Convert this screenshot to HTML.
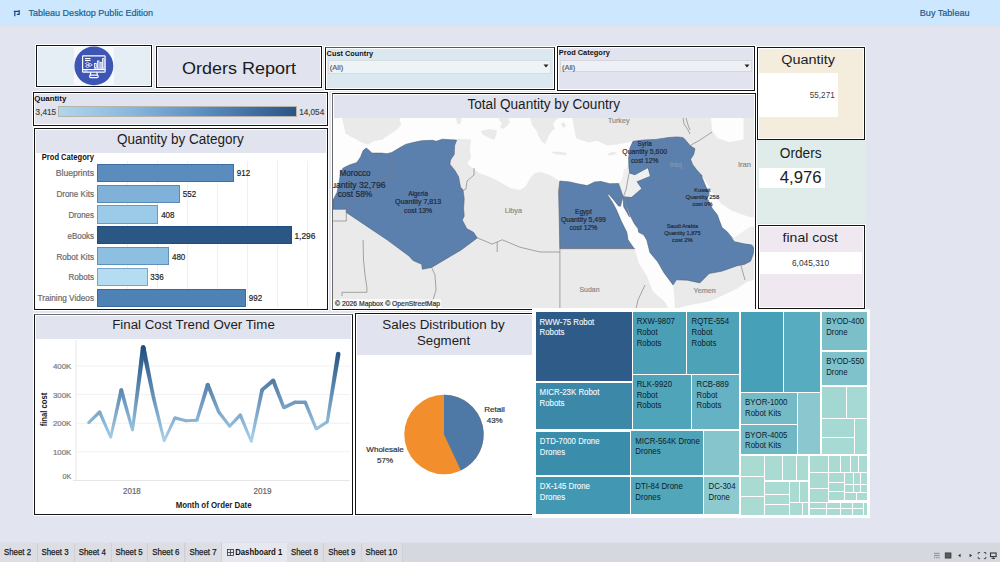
<!DOCTYPE html>
<html><head><meta charset="utf-8"><title>Orders Report</title><style>
*{margin:0;padding:0;box-sizing:border-box}
html,body{width:1000px;height:562px;overflow:hidden;background:#e2e5ef;font-family:"Liberation Sans", Arial, sans-serif;position:relative}
.abs{position:absolute}
.bx{position:absolute;border:1px solid #151515;box-shadow:0 0 0 1px #fff, inset 0 0 0 1px #fff}
.tile{position:absolute}
</style></head>
<body>
<div class="abs" style="left:0px;top:0px;width:1000px;height:25px;background:#cde8fe;"></div><div class="abs" style="left:0px;top:25px;width:1000px;height:1px;background:#c4e8fc;"></div><div class="abs" style="left:0px;top:26px;width:1000px;height:1px;background:#e6e3e8;"></div><svg class="abs" style="left:0;top:0" width="30" height="26" viewBox="0 0 30 26"><path d="M13.8,11.3 H19.8 M14.8,11.3 V16.2 M19.2,10 V15 M16.8,14.3 H19.2" fill="none" stroke="#1a4a82" stroke-width="1.25"/></svg><div class="bx" style="left:36px;top:45px;width:116px;height:42px;background:#e5edf5;"></div><div class="abs" style="left:74px;top:46px;width:40px;height:40px;background:#f6f8fb;"></div><svg class="abs" style="left:74px;top:46px" width="40" height="40" viewBox="0 0 40 40">
<circle cx="19.85" cy="19.9" r="19.45" fill="#3d56b6"/>
<g fill="none" stroke="#fff" stroke-width="1.2">
<rect x="8.6" y="9.8" width="22.5" height="16.4" rx="0.8"/>
<line x1="8.6" y1="23.6" x2="31.1" y2="23.6"/>
<path d="M16.8,26.4 L16.2,29.2 M22.8,26.4 L23.4,29.2"/>
<rect x="15.6" y="29.2" width="8.6" height="2.4" rx="1.2"/>
<rect x="20.6" y="17.5" width="1.6" height="4.8" stroke-width="0.9"/>
<rect x="23.4" y="15" width="1.6" height="7.3" stroke-width="0.9"/>
<rect x="26.2" y="16.6" width="1.6" height="5.7" stroke-width="0.9"/>
<rect x="28.6" y="12.6" width="1.4" height="9.7" stroke-width="0.9"/>
<path d="M11.5,17.5 l2,-1.3 l2,1.3 l-2,1.3z M11.5,20.3 l2,-1.3 l2,1.3 l-2,1.3z M14.3,18.9 l2,-1.3 l2,1.3 l-2,1.3z" stroke-width="0.7"/>
</g>
<rect x="11" y="12" width="5.5" height="1.2" fill="#fff"/><rect x="11" y="14" width="5.5" height="1" fill="#fff"/>
<rect x="10.5" y="24.6" width="3" height="0.8" fill="#fff"/>
</svg><div class="bx" style="left:156px;top:46px;width:166px;height:42px;background:#e1e4ef;"></div><div class="bx" style="left:325px;top:47px;width:230px;height:43px;background:#dce8ef;border-top-color:#5a5a5a;"></div><div class="abs" style="left:328px;top:60px;width:223px;height:13.5px;background:#eef4f6;border:1px solid #d3dde2;"></div><svg class="abs" style="left:543px;top:64px" width="6" height="4"><path d="M0.5,0.5 L5.5,0.5 L3,3.5Z" fill="#222"/></svg><div class="bx" style="left:557px;top:46px;width:198px;height:45px;background:#e1e4ef;"></div><div class="abs" style="left:559.5px;top:60.3px;width:192px;height:12px;background:#eff0f5;border:1px solid #d5d7de;"></div><svg class="abs" style="left:743.5px;top:64px" width="6" height="4"><path d="M0.5,0.5 L5.5,0.5 L3,3.5Z" fill="#222"/></svg><div class="bx" style="left:757px;top:47px;width:108px;height:93px;background:#f4ecdc;"></div><div class="abs" style="left:759px;top:73px;width:79px;height:44px;background:#ffffff;"></div><div class="abs" style="left:757px;top:140px;width:109px;height:83px;background:#dfece9;"></div><div class="abs" style="left:759px;top:167.5px;width:65.5px;height:20px;background:#ffffff;"></div><div class="bx" style="left:758px;top:225px;width:107px;height:84px;background:#efe8f1;"></div><div class="abs" style="left:760px;top:252px;width:102px;height:21.5px;background:#ffffff;"></div><div class="bx" style="left:33px;top:92px;width:295px;height:34px;background:#e1e4ef;"></div><div class="abs" style="left:58px;top:106.3px;width:239px;height:10.7px;background:linear-gradient(90deg,#b0d6ee,#88b8de 30%,#5a8cc0 62%,#2a5589);border:1px solid #b9b3a8;"></div><div class="bx" style="left:34px;top:128px;width:294px;height:182px;background:#ffffff;"></div><div class="abs" style="left:36px;top:130px;width:290px;height:23px;background:#e1e4ef;"></div><div class="abs" style="left:127px;top:161px;width:1px;height:146px;background:#f0f0f0;"></div><div class="abs" style="left:157px;top:161px;width:1px;height:146px;background:#f0f0f0;"></div><div class="abs" style="left:187px;top:161px;width:1px;height:146px;background:#f0f0f0;"></div><div class="abs" style="left:217px;top:161px;width:1px;height:146px;background:#f0f0f0;"></div><div class="abs" style="left:247px;top:161px;width:1px;height:146px;background:#f0f0f0;"></div><div class="abs" style="left:277px;top:161px;width:1px;height:146px;background:#f0f0f0;"></div><div class="abs" style="left:307px;top:161px;width:1px;height:146px;background:#f0f0f0;"></div><div class="abs" style="left:97.2px;top:163.7px;width:136.9px;height:18.3px;background:#5a8dbd;box-shadow:inset 0 0 0 1px rgba(15,60,120,0.35)"></div><div class="abs" style="left:97.2px;top:184.5px;width:82.8px;height:18.3px;background:#7fb1d9;box-shadow:inset 0 0 0 1px rgba(15,60,120,0.35)"></div><div class="abs" style="left:97.2px;top:205.3px;width:61.2px;height:18.3px;background:#9bcbe8;box-shadow:inset 0 0 0 1px rgba(15,60,120,0.35)"></div><div class="abs" style="left:97.2px;top:226.1px;width:194.5px;height:18.3px;background:#2a5783;box-shadow:inset 0 0 0 1px rgba(15,60,120,0.35)"></div><div class="abs" style="left:97.2px;top:246.9px;width:72.0px;height:18.3px;background:#8dbfe1;box-shadow:inset 0 0 0 1px rgba(15,60,120,0.35)"></div><div class="abs" style="left:97.2px;top:267.7px;width:50.4px;height:18.3px;background:#b5ddf2;box-shadow:inset 0 0 0 1px rgba(15,60,120,0.35)"></div><div class="abs" style="left:97.2px;top:288.5px;width:148.9px;height:18.3px;background:#4f82b4;box-shadow:inset 0 0 0 1px rgba(15,60,120,0.35)"></div><div class="bx" style="left:332px;top:93px;width:424px;height:217px;background:#ffffff;border-left-color:#6a6a6a;"></div><div class="abs" style="left:334px;top:95px;width:420px;height:22.5px;background:#e1e4ef;"></div><svg class="abs" style="left:0;top:0" width="1000" height="562" viewBox="0 0 1000 562"><defs><clipPath id="mc"><rect x="333" y="118" width="421" height="190"/></clipPath></defs><g clip-path="url(#mc)"><rect x="333" y="118" width="421" height="190" fill="#eaeaea"/><polygon points="333.0,118.0 342.0,118.0 343.8,124.5 345.7,133.8 353.2,137.5 361.9,142.5 368.1,144.4 373.1,141.3 381.8,139.4 390.5,133.8 396.8,129.5 401.1,124.5 399.2,119.5 400.0,118.0 572.3,118.0 576.0,138.2 588.5,142.5 597.2,140.7 607.2,145.6 617.1,144.4 625.0,143.0 633.0,141.3 629.9,148.1 628.6,158.1 627.1,168.5 621.4,180.7 618.5,183.5 609.7,183.7 601.0,181.5 594.7,181.9 587.2,185.6 577.3,183.7 569.8,181.9 559.9,181.0 558.6,180.5 550.0,175.0 540.0,172.0 535.0,173.0 530.0,178.0 526.0,186.0 520.0,190.0 510.0,188.0 500.0,182.0 490.0,177.0 480.0,173.5 470.0,166.0 467.3,163.1 471.0,158.1 469.8,149.4 471.0,139.4 457.4,138.8 456.7,140.0 449.9,139.7 442.4,139.2 436.2,141.3 432.5,140.3 421.7,140.7 413.0,142.5 405.5,144.4 399.2,148.1 391.8,152.5 386.8,153.7 381.8,153.1 371.9,153.1 368.1,149.4 366.2,148.1 363.1,150.6 360.6,156.9 356.9,162.5 349.4,165.0 343.2,168.0 340.7,171.8 339.5,180.0 337.0,192.5 333.0,200.0" fill="#fdfdfd"/><polygon points="607.0,194.0 612.5,202.4 616.2,209.3 621.2,221.1 626.8,232.3 628.0,239.8 634.9,249.7 639.0,263.4 646.8,275.9 653.0,291.5 665.5,302.4 668.6,309.0 675.0,309.0 673.3,285.2 664.0,272.8 657.7,261.8 649.9,252.5 646.8,240.0 643.6,234.8 638.6,232.3 638.0,228.6 630.5,218.6 623.7,206.8 623.0,196.2 621.8,201.0 620.5,206.2 618.5,206.0 613.0,199.0 609.0,194.5" fill="#fdfdfd"/><polygon points="701.0,175.0 705.0,180.0 712.4,192.5 721.1,203.7 732.3,211.1 744.8,215.5 751.6,217.4 756.0,217.0 756.0,226.0 749.7,227.3 742.3,232.3 733.5,238.5 730.9,236.4 727.4,231.9 722.0,227.5 719.3,220.3 717.4,214.9 712.4,208.6 707.4,198.7 709.9,191.2 706.2,187.5 704.9,184.2" fill="#fdfdfd"/><polygon points="711.0,118.0 743.5,118.0 743.5,139.4 729.8,141.9 717.4,138.2 712.0,130.0" fill="#fdfdfd"/><polygon points="674.9,309.0 687.4,305.5 709.2,301.6 724.8,294.6 737.3,288.4 746.6,282.1 756.0,279.0 756.0,309.0" fill="#fdfdfd"/><polygon points="333.0,209.3 346.3,209.3 346.3,212.4 369.4,228.0 387.4,240.0 409.2,256.2 413.0,260.5 421.7,264.3 422.3,269.3 431.6,267.4 461.1,250.0 477.3,237.9 473.5,232.3 466.7,228.6 462.3,219.9 464.2,216.1 463.6,208.6 464.2,198.7 463.0,190.0 460.5,187.0 458.6,176.8 454.9,170.5 449.9,164.3 450.5,160.0 454.2,154.4 454.6,145.6 456.7,140.0 449.9,139.7 442.4,139.2 436.2,141.3 432.5,140.3 421.7,140.7 413.0,142.5 405.5,144.4 399.2,148.1 391.8,152.5 386.8,153.7 381.8,153.1 371.9,153.1 368.1,149.4 366.2,148.1 363.1,150.6 360.6,156.9 356.9,162.5 349.4,165.0 343.2,168.0 340.7,171.8 339.5,180.0 337.0,192.5 333.0,200.0 333.0,209.3" fill="#5b80ae" stroke="#4d5d73" stroke-width="0.55" stroke-linejoin="round"/><polygon points="558.6,191.2 559.9,248.6 634.1,248.6 628.0,239.8 626.8,232.3 621.2,221.1 616.2,209.3 612.5,202.4 607.0,194.0 609.0,194.5 613.0,199.0 618.5,206.0 620.5,206.2 621.8,201.0 623.0,196.2 618.5,183.5 609.7,183.7 601.0,181.5 594.7,181.9 587.2,185.6 577.3,183.7 569.8,181.9 559.9,181.0 558.6,191.2" fill="#5b80ae" stroke="#4d5d73" stroke-width="0.55" stroke-linejoin="round"/><polygon points="628.0,212.0 623.0,196.2 623.7,206.8 629.5,216.9 628.0,212.0" fill="#5b80ae" stroke="#4d5d73" stroke-width="0.55" stroke-linejoin="round"/><polygon points="629.9,148.1 628.6,158.1 629.2,173.5 634.9,175.3 647.7,168.2 649.9,176.0 636.4,181.4 641.3,188.5 631.4,197.0 623.5,196.3 630.0,215.0 634.4,223.8 638.0,228.6 638.6,232.2 638.7,232.3 643.6,234.8 646.8,240.0 649.9,252.5 657.7,261.8 664.0,272.8 673.1,285.0 676.4,279.8 687.4,280.2 699.8,282.9 709.2,273.5 721.7,271.2 737.3,265.7 744.3,264.4 750.5,261.3 753.2,254.1 754.0,247.9 751.4,244.4 743.4,243.3 734.5,241.2 732.4,237.6 730.9,236.4 727.4,231.9 722.0,227.5 719.3,220.3 717.4,214.9 712.4,208.6 707.4,198.7 709.2,193.2 706.8,188.1 706.2,187.5 704.9,184.2 701.0,175.0 702.1,176.4 701.8,175.5 696.2,169.3 692.5,164.3 690.6,159.3 693.7,154.4 695.0,148.8 690.0,145.6 685.0,139.4 682.8,137.5 677.2,136.9 668.5,137.5 656.0,139.4 643.6,140.0 633.0,141.3 629.9,148.1" fill="#5b80ae" stroke="#4d5d73" stroke-width="0.55" stroke-linejoin="round"/><polygon points="342.0,117.0 343.8,124.5 345.7,133.8 353.2,137.5 361.9,142.5 368.1,144.4 373.1,141.3 381.8,139.4 390.5,133.8 396.8,129.5 401.1,124.5 399.2,119.5 400.0,117.0" fill="#eaeaea"/><polygon points="500.0,117.0 508.0,117.0 510.0,122.0 507.0,126.0 503.0,129.0 500.0,127.0 502.0,123.0 499.0,120.0" fill="#eaeaea"/><polygon points="481.0,131.0 490.0,129.0 497.0,130.5 496.0,136.0 494.0,140.0 487.0,137.0 482.0,134.0" fill="#eaeaea"/><polygon points="456.0,117.0 461.0,117.0 461.5,121.0 460.0,124.0 457.0,123.5" fill="#eaeaea"/><polygon points="530.0,117.0 532.0,125.0 536.0,130.0 539.0,137.0 542.0,142.0 545.0,144.0 547.0,140.0 549.0,135.0 552.0,131.0 555.0,129.0 553.0,124.0 556.0,120.0 560.0,117.0" fill="#eaeaea"/><polygon points="561.0,124.0 564.0,122.0 566.0,126.0 563.0,128.0" fill="#eaeaea"/><polygon points="551.0,152.0 558.0,151.5 567.0,153.0 566.0,155.0 556.0,154.5" fill="#eaeaea"/><polygon points="607.0,154.0 612.0,152.0 617.0,152.5 614.0,155.0 609.0,155.5" fill="#eaeaea"/><polygon points="629.2,173.5 634.9,175.3 647.7,168.2 649.9,176.0 636.4,181.4 641.3,188.5 631.4,197.0 623.5,196.3 620.7,184.2 624.2,169.3 628.5,168.5" fill="#efefef"/><polygon points="730.9,236.4 733.5,238.5 742.3,232.3 749.7,227.3 753.0,226.0 752.0,244.4 743.4,243.3 734.5,241.2" fill="#efefef"/><polyline points="388.7,153.7 391.8,166.8 393.6,175.5 384.3,178.0 378.0,187.5 356.3,196.2 347.0,201.8 346.3,212.4" fill="none" stroke="#7a7a7a" stroke-width="0.65"/><polyline points="346.3,221.0 333.0,221.0" fill="none" stroke="#7a7a7a" stroke-width="0.65"/><polyline points="346.3,212.4 346.3,221.0" fill="none" stroke="#7a7a7a" stroke-width="0.65"/><polyline points="363.1,240.0 363.5,260.0 365.0,275.0 366.9,287.3 366.9,292.3 342.0,292.3 342.0,296.0" fill="none" stroke="#7a7a7a" stroke-width="0.65"/><polyline points="474.0,168.0 474.0,175.0 467.0,181.0 466.0,189.0 462.0,191.0" fill="none" stroke="#7a7a7a" stroke-width="0.65"/><polyline points="477.3,237.9 492.2,244.1 502.2,239.8 520.0,247.2 540.0,252.0 559.9,252.0" fill="none" stroke="#7a7a7a" stroke-width="0.65"/><polyline points="497.2,242.0 497.2,252.0" fill="none" stroke="#7a7a7a" stroke-width="0.65"/><polyline points="559.9,181.0 559.9,309.0" fill="none" stroke="#7a7a7a" stroke-width="0.65"/><polyline points="431.6,267.4 435.0,275.0 436.0,290.0 433.0,300.0 420.0,300.0 405.0,305.0 402.0,309.0" fill="none" stroke="#7a7a7a" stroke-width="0.65"/><polyline points="559.9,248.6 635.1,248.6" fill="none" stroke="#7a7a7a" stroke-width="0.65"/><polyline points="659.8,180.0 672.0,190.0 687.2,199.3" fill="none" stroke="#7a7a7a" stroke-width="0.65"/><polyline points="648.6,168.1 660.0,160.0 665.0,150.0 668.5,137.5" fill="none" stroke="#7a7a7a" stroke-width="0.65"/><polyline points="690.0,145.6 700.0,140.0 712.0,132.0" fill="none" stroke="#7a7a7a" stroke-width="0.65"/><polyline points="686.0,118.0 688.0,125.0 690.0,130.0" fill="none" stroke="#7a7a7a" stroke-width="0.65"/><polyline points="645.0,285.0 638.0,300.0 636.0,309.0" fill="none" stroke="#7a7a7a" stroke-width="0.65"/><polyline points="740.0,262.0 745.0,280.0" fill="none" stroke="#7a7a7a" stroke-width="0.65"/><polyline points="629.0,173.5 626.0,190.0 623.5,196.3" fill="none" stroke="#7a7a7a" stroke-width="0.65"/><polyline points="683.0,118.0 684.0,124.0 688.0,130.0 690.0,134.0" fill="none" stroke="#7a7a7a" stroke-width="0.65"/></g></svg><div class="abs" style="left:333px;top:298.5px;width:108px;height:9.5px;background:rgba(255,255,255,0.75);"></div><div class="bx" style="left:34px;top:314px;width:319px;height:201px;background:#ffffff;border-top-color:#6e6e6e;"></div><div class="abs" style="left:36px;top:316px;width:315px;height:23px;background:#e1e4ef;"></div><svg class="abs" style="left:0;top:0" width="1000" height="562" viewBox="0 0 1000 562"><defs><linearGradient id="lg0" gradientUnits="userSpaceOnUse" x1="88.8" y1="422.6" x2="99.6" y2="412.0"><stop offset="0" stop-color="#8db7d6"/><stop offset="1" stop-color="#7da8ca"/></linearGradient><linearGradient id="lg1" gradientUnits="userSpaceOnUse" x1="99.6" y1="412.0" x2="110.7" y2="437.3"><stop offset="0" stop-color="#7da8ca"/><stop offset="1" stop-color="#a2cbe7"/></linearGradient><linearGradient id="lg2" gradientUnits="userSpaceOnUse" x1="110.7" y1="437.3" x2="121.3" y2="389.9"><stop offset="0" stop-color="#a2cbe7"/><stop offset="1" stop-color="#5d89b1"/></linearGradient><linearGradient id="lg3" gradientUnits="userSpaceOnUse" x1="121.3" y1="389.9" x2="132.5" y2="430.1"><stop offset="0" stop-color="#5d89b1"/><stop offset="1" stop-color="#97c1df"/></linearGradient><linearGradient id="lg4" gradientUnits="userSpaceOnUse" x1="132.5" y1="430.1" x2="143.2" y2="347.4"><stop offset="0" stop-color="#97c1df"/><stop offset="1" stop-color="#204f80"/></linearGradient><linearGradient id="lg5" gradientUnits="userSpaceOnUse" x1="143.2" y1="347.4" x2="153.6" y2="398"><stop offset="0" stop-color="#204f80"/><stop offset="1" stop-color="#6995ba"/></linearGradient><linearGradient id="lg6" gradientUnits="userSpaceOnUse" x1="153.6" y1="398" x2="164.2" y2="440.8"><stop offset="0" stop-color="#6995ba"/><stop offset="1" stop-color="#a7d0eb"/></linearGradient><linearGradient id="lg7" gradientUnits="userSpaceOnUse" x1="164.2" y1="440.8" x2="174.9" y2="417.9"><stop offset="0" stop-color="#a7d0eb"/><stop offset="1" stop-color="#86b0d1"/></linearGradient><linearGradient id="lg8" gradientUnits="userSpaceOnUse" x1="174.9" y1="417.9" x2="185.9" y2="420.7"><stop offset="0" stop-color="#86b0d1"/><stop offset="1" stop-color="#8ab4d4"/></linearGradient><linearGradient id="lg9" gradientUnits="userSpaceOnUse" x1="185.9" y1="420.7" x2="196.9" y2="420.3"><stop offset="0" stop-color="#8ab4d4"/><stop offset="1" stop-color="#89b4d4"/></linearGradient><linearGradient id="lg10" gradientUnits="userSpaceOnUse" x1="196.9" y1="420.3" x2="207.7" y2="384.6"><stop offset="0" stop-color="#89b4d4"/><stop offset="1" stop-color="#5682ab"/></linearGradient><linearGradient id="lg11" gradientUnits="userSpaceOnUse" x1="207.7" y1="384.6" x2="218.8" y2="412.1"><stop offset="0" stop-color="#5682ab"/><stop offset="1" stop-color="#7da8ca"/></linearGradient><linearGradient id="lg12" gradientUnits="userSpaceOnUse" x1="218.8" y1="412.1" x2="229.6" y2="426.2"><stop offset="0" stop-color="#7da8ca"/><stop offset="1" stop-color="#92bcdb"/></linearGradient><linearGradient id="lg13" gradientUnits="userSpaceOnUse" x1="229.6" y1="426.2" x2="240.3" y2="415"><stop offset="0" stop-color="#92bcdb"/><stop offset="1" stop-color="#82acce"/></linearGradient><linearGradient id="lg14" gradientUnits="userSpaceOnUse" x1="240.3" y1="415" x2="251.3" y2="441.4"><stop offset="0" stop-color="#82acce"/><stop offset="1" stop-color="#a8d1ec"/></linearGradient><linearGradient id="lg15" gradientUnits="userSpaceOnUse" x1="251.3" y1="441.4" x2="262.1" y2="389.9"><stop offset="0" stop-color="#a8d1ec"/><stop offset="1" stop-color="#5d89b1"/></linearGradient><linearGradient id="lg16" gradientUnits="userSpaceOnUse" x1="262.1" y1="389.9" x2="273.2" y2="380.5"><stop offset="0" stop-color="#5d89b1"/><stop offset="1" stop-color="#507ca6"/></linearGradient><linearGradient id="lg17" gradientUnits="userSpaceOnUse" x1="273.2" y1="380.5" x2="283.8" y2="407.6"><stop offset="0" stop-color="#507ca6"/><stop offset="1" stop-color="#77a2c5"/></linearGradient><linearGradient id="lg18" gradientUnits="userSpaceOnUse" x1="283.8" y1="407.6" x2="294.8" y2="402.3"><stop offset="0" stop-color="#77a2c5"/><stop offset="1" stop-color="#6f9bbf"/></linearGradient><linearGradient id="lg19" gradientUnits="userSpaceOnUse" x1="294.8" y1="402.3" x2="305.3" y2="402.3"><stop offset="0" stop-color="#6f9bbf"/><stop offset="1" stop-color="#6f9bbf"/></linearGradient><linearGradient id="lg20" gradientUnits="userSpaceOnUse" x1="305.3" y1="402.3" x2="316.3" y2="429.1"><stop offset="0" stop-color="#6f9bbf"/><stop offset="1" stop-color="#96c0de"/></linearGradient><linearGradient id="lg21" gradientUnits="userSpaceOnUse" x1="316.3" y1="429.1" x2="327.3" y2="421.8"><stop offset="0" stop-color="#96c0de"/><stop offset="1" stop-color="#8bb6d5"/></linearGradient><linearGradient id="lg22" gradientUnits="userSpaceOnUse" x1="327.3" y1="421.8" x2="338.2" y2="354.1"><stop offset="0" stop-color="#8bb6d5"/><stop offset="1" stop-color="#295888"/></linearGradient></defs><line x1="76" y1="366.0" x2="350" y2="366.0" stroke="#f0f0f0" stroke-width="1"/><line x1="76" y1="394.6" x2="350" y2="394.6" stroke="#f0f0f0" stroke-width="1"/><line x1="76" y1="423.2" x2="350" y2="423.2" stroke="#f0f0f0" stroke-width="1"/><line x1="76" y1="451.8" x2="350" y2="451.8" stroke="#f0f0f0" stroke-width="1"/><line x1="76" y1="340" x2="76" y2="481" stroke="#e6e6e6" stroke-width="1"/><line x1="73" y1="480.5" x2="350" y2="480.5" stroke="#e6e6e6" stroke-width="1"/><polygon points="89.89,423.71 100.76,413.19 98.44,410.81 87.71,421.49" fill="url(#lg0)"/><polygon points="98.08,412.67 109.42,437.86 111.98,436.74 101.12,411.33" fill="url(#lg1)"/><polygon points="112.06,437.60 123.15,390.31 119.45,389.49 109.34,437.00" fill="url(#lg2)"/><polygon points="119.47,390.41 131.08,430.49 133.92,429.71 123.13,389.39" fill="url(#lg3)"/><polygon points="133.96,430.29 145.53,347.70 140.87,347.10 131.04,429.91" fill="url(#lg4)"/><polygon points="140.90,347.87 151.83,398.36 155.37,397.64 145.50,346.93" fill="url(#lg5)"/><polygon points="151.84,398.44 162.88,441.13 165.52,440.47 155.36,397.56" fill="url(#lg6)"/><polygon points="165.43,441.37 176.35,418.58 173.45,417.22 162.97,440.23" fill="url(#lg7)"/><polygon points="174.51,419.45 185.51,422.22 186.29,419.18 175.29,416.35" fill="url(#lg8)"/><polygon points="185.96,422.27 196.96,421.87 196.84,418.73 185.84,419.13" fill="url(#lg9)"/><polygon points="198.41,420.76 209.57,385.17 205.83,384.03 195.39,419.84" fill="url(#lg10)"/><polygon points="205.89,385.33 217.26,412.72 220.34,411.48 209.51,383.87" fill="url(#lg11)"/><polygon points="217.48,413.11 228.40,427.12 230.80,425.28 220.12,411.09" fill="url(#lg12)"/><polygon points="230.69,427.24 241.48,416.13 239.12,413.87 228.51,425.16" fill="url(#lg13)"/><polygon points="238.79,415.63 250.05,441.92 252.55,440.88 241.81,414.37" fill="url(#lg14)"/><polygon points="252.62,441.68 263.96,390.29 260.24,389.51 249.98,441.12" fill="url(#lg15)"/><polygon points="263.33,391.35 274.49,382.02 271.91,378.98 260.87,388.45" fill="url(#lg16)"/><polygon points="271.34,381.23 282.21,408.22 285.39,406.98 275.06,379.77" fill="url(#lg17)"/><polygon points="284.54,409.14 295.57,403.89 294.03,400.71 283.06,406.06" fill="url(#lg18)"/><polygon points="294.80,404.06 305.30,404.06 305.30,400.54 294.80,400.54" fill="url(#lg19)"/><polygon points="303.67,402.97 314.93,429.66 317.67,428.54 306.93,401.63" fill="url(#lg20)"/><polygon points="317.12,430.33 328.16,423.10 326.44,420.50 315.48,427.87" fill="url(#lg21)"/><polygon points="328.84,422.05 340.45,354.46 335.95,353.74 325.76,421.55" fill="url(#lg22)"/><circle cx="88.8" cy="422.6" r="1.55" fill="#8db7d6"/><circle cx="99.6" cy="412.0" r="1.66" fill="#7da8ca"/><circle cx="110.7" cy="437.3" r="1.39" fill="#a2cbe7"/><circle cx="121.3" cy="389.9" r="1.90" fill="#5d89b1"/><circle cx="132.5" cy="430.1" r="1.47" fill="#97c1df"/><circle cx="143.2" cy="347.4" r="2.35" fill="#204f80"/><circle cx="153.6" cy="398" r="1.81" fill="#6995ba"/><circle cx="164.2" cy="440.8" r="1.36" fill="#a7d0eb"/><circle cx="174.9" cy="417.9" r="1.60" fill="#86b0d1"/><circle cx="185.9" cy="420.7" r="1.57" fill="#8ab4d4"/><circle cx="196.9" cy="420.3" r="1.57" fill="#89b4d4"/><circle cx="207.7" cy="384.6" r="1.95" fill="#5682ab"/><circle cx="218.8" cy="412.1" r="1.66" fill="#7da8ca"/><circle cx="229.6" cy="426.2" r="1.51" fill="#92bcdb"/><circle cx="240.3" cy="415" r="1.63" fill="#82acce"/><circle cx="251.3" cy="441.4" r="1.35" fill="#a8d1ec"/><circle cx="262.1" cy="389.9" r="1.90" fill="#5d89b1"/><circle cx="273.2" cy="380.5" r="2.00" fill="#507ca6"/><circle cx="283.8" cy="407.6" r="1.71" fill="#77a2c5"/><circle cx="294.8" cy="402.3" r="1.76" fill="#6f9bbf"/><circle cx="305.3" cy="402.3" r="1.76" fill="#6f9bbf"/><circle cx="316.3" cy="429.1" r="1.48" fill="#96c0de"/><circle cx="327.3" cy="421.8" r="1.56" fill="#8bb6d5"/><circle cx="338.2" cy="354.1" r="2.27" fill="#295888"/></svg><div class="bx" style="left:355px;top:313px;width:178px;height:202px;background:#ffffff;"></div><div class="abs" style="left:357px;top:315px;width:175px;height:39.5px;background:#e1e4ef;"></div><svg class="abs" style="left:0;top:0" width="1000" height="562" viewBox="0 0 1000 562"><circle cx="444" cy="434.5" r="39.7" fill="#f28e2b"/><path d="M444,434.5 L444,394.8 A39.7,39.7 0 0 1 460.90,470.42 Z" fill="#4e79a7"/></svg><div class="abs" style="left:532px;top:309px;width:338px;height:209px;background:#ffffff"></div><div class="tile" style="left:535.5px;top:312.4px;width:96.3px;height:68.9px;background:#2e5b88;color:#ffffff"></div><div class="tile" style="left:535.5px;top:382.9px;width:96.0px;height:46.6px;background:#3b88a9;color:#ffffff"></div><div class="tile" style="left:632.6px;top:312.0px;width:53.0px;height:61.7px;background:#4a9fb6;color:#1b2836"></div><div class="tile" style="left:687.4px;top:312.0px;width:51.2px;height:61.7px;background:#4da2b8;color:#1b2836"></div><div class="tile" style="left:632.6px;top:374.8px;width:58.2px;height:54.5px;background:#4fa4b9;color:#1b2836"></div><div class="tile" style="left:692.4px;top:374.8px;width:46.2px;height:54.5px;background:#64b2c3;color:#1b2836"></div><div class="tile" style="left:535.7px;top:431.6px;width:94.0px;height:43.9px;background:#3a8eab;color:#ffffff"></div><div class="tile" style="left:535.7px;top:477.0px;width:94.0px;height:37.3px;background:#4298b3;color:#ffffff"></div><div class="tile" style="left:631.2px;top:431.2px;width:71.8px;height:43.6px;background:#4ea3b8;color:#1b2836"></div><div class="tile" style="left:704.2px;top:431.2px;width:34.4px;height:44.0px;background:#86c5cc;color:#1b2836"></div><div class="tile" style="left:631.2px;top:476.6px;width:71.8px;height:37.7px;background:#52a6ba;color:#1b2836"></div><div class="tile" style="left:704.4px;top:477.0px;width:34.2px;height:37.3px;background:#8ccacf;color:#1b2836"></div><div class="tile" style="left:741.4px;top:312.1px;width:41.3px;height:79.5px;background:#46a1b8;color:#1b2836"></div><div class="tile" style="left:784.0px;top:312.1px;width:35.9px;height:79.5px;background:#58acc0;color:#1b2836"></div><div class="tile" style="left:822.1px;top:312.0px;width:44.9px;height:37.8px;background:#7cbfc9;color:#1b2836"></div><div class="tile" style="left:822.1px;top:352.0px;width:44.9px;height:33.4px;background:#80c2cb;color:#1b2836"></div><div class="tile" style="left:741.0px;top:393.1px;width:56.2px;height:30.7px;background:#74bac7;color:#1b2836"></div><div class="tile" style="left:741.0px;top:425.2px;width:56.2px;height:29.2px;background:#71b8c6;color:#1b2836"></div><div class="tile" style="left:798.3px;top:393.1px;width:21.6px;height:61.3px;background:#8ac7ce;color:#1b2836"></div><div class="tile" style="left:822.0px;top:387.1px;width:24.0px;height:30.6px;background:#a3d8d2;color:#1b2836"></div><div class="tile" style="left:847.4px;top:387.1px;width:19.6px;height:30.6px;background:#a6d9d3;color:#1b2836"></div><div class="tile" style="left:822.0px;top:419.1px;width:31.8px;height:18.1px;background:#a6d9d3;color:#1b2836"></div><div class="tile" style="left:822.0px;top:438.2px;width:31.8px;height:16.2px;background:#a8dad4;color:#1b2836"></div><div class="tile" style="left:855.2px;top:419.1px;width:11.8px;height:35.3px;background:#a8dad4;color:#1b2836"></div><div class="tile" style="left:740.9px;top:455.9px;width:23.1px;height:20.0px;background:#a9dbd3"></div><div class="tile" style="left:740.9px;top:477.0px;width:23.1px;height:19.0px;background:#a9dbd3"></div><div class="tile" style="left:740.9px;top:497.0px;width:23.1px;height:17.7px;background:#a9dbd3"></div><div class="tile" style="left:764.8px;top:455.9px;width:17.1px;height:24.6px;background:#a9dbd3"></div><div class="tile" style="left:783.0px;top:455.9px;width:13.2px;height:24.6px;background:#a9dbd3"></div><div class="tile" style="left:797.0px;top:455.9px;width:11.1px;height:24.6px;background:#a9dbd3"></div><div class="tile" style="left:764.8px;top:481.5px;width:24.1px;height:12.6px;background:#a9dbd3"></div><div class="tile" style="left:764.8px;top:495.1px;width:24.1px;height:8.8px;background:#a9dbd3"></div><div class="tile" style="left:764.8px;top:505.3px;width:24.1px;height:9.4px;background:#a9dbd3"></div><div class="tile" style="left:790.0px;top:481.5px;width:9.4px;height:20.6px;background:#a9dbd3"></div><div class="tile" style="left:800.1px;top:481.5px;width:8.0px;height:20.6px;background:#a9dbd3"></div><div class="tile" style="left:790.0px;top:503.0px;width:12.0px;height:11.7px;background:#a9dbd3"></div><div class="tile" style="left:803.0px;top:503.0px;width:5.1px;height:11.7px;background:#a9dbd3"></div><div class="tile" style="left:810.3px;top:455.9px;width:17.7px;height:16.1px;background:#a9dbd3"></div><div class="tile" style="left:829.0px;top:455.9px;width:11.0px;height:16.1px;background:#a9dbd3"></div><div class="tile" style="left:841.0px;top:455.9px;width:9.0px;height:16.1px;background:#a9dbd3"></div><div class="tile" style="left:851.0px;top:455.9px;width:7.0px;height:16.1px;background:#a9dbd3"></div><div class="tile" style="left:859.0px;top:455.9px;width:7.6px;height:16.1px;background:#a9dbd3"></div><div class="tile" style="left:810.3px;top:473.0px;width:17.7px;height:14.5px;background:#a9dbd3"></div><div class="tile" style="left:810.3px;top:488.5px;width:17.7px;height:13.0px;background:#a9dbd3"></div><div class="tile" style="left:829.0px;top:473.0px;width:15.0px;height:9.0px;background:#a9dbd3"></div><div class="tile" style="left:829.0px;top:483.0px;width:15.0px;height:7.5px;background:#a9dbd3"></div><div class="tile" style="left:829.0px;top:491.5px;width:15.0px;height:8.0px;background:#a9dbd3"></div><div class="tile" style="left:845.0px;top:473.0px;width:8.0px;height:11.0px;background:#a9dbd3"></div><div class="tile" style="left:854.0px;top:473.0px;width:6.0px;height:11.0px;background:#a9dbd3"></div><div class="tile" style="left:861.0px;top:473.0px;width:5.6px;height:11.0px;background:#a9dbd3"></div><div class="tile" style="left:845.0px;top:485.0px;width:8.0px;height:7.0px;background:#a9dbd3"></div><div class="tile" style="left:854.0px;top:485.0px;width:6.0px;height:7.0px;background:#a9dbd3"></div><div class="tile" style="left:861.0px;top:485.0px;width:5.6px;height:7.0px;background:#a9dbd3"></div><div class="tile" style="left:845.0px;top:493.0px;width:11.0px;height:6.5px;background:#a9dbd3"></div><div class="tile" style="left:857.0px;top:493.0px;width:9.6px;height:6.5px;background:#a9dbd3"></div><div class="tile" style="left:810.3px;top:502.5px;width:15.7px;height:5.5px;background:#a9dbd3"></div><div class="tile" style="left:810.3px;top:509.0px;width:15.7px;height:5.7px;background:#a9dbd3"></div><div class="tile" style="left:827.0px;top:502.5px;width:13.0px;height:5.5px;background:#a9dbd3"></div><div class="tile" style="left:827.0px;top:509.0px;width:13.0px;height:5.7px;background:#a9dbd3"></div><div class="tile" style="left:841.0px;top:502.5px;width:11.0px;height:5.5px;background:#a9dbd3"></div><div class="tile" style="left:841.0px;top:509.0px;width:11.0px;height:5.7px;background:#a9dbd3"></div><div class="tile" style="left:853.0px;top:502.5px;width:10.0px;height:5.5px;background:#a9dbd3"></div><div class="tile" style="left:853.0px;top:509.0px;width:10.0px;height:5.7px;background:#a9dbd3"></div><div class="tile" style="left:864.0px;top:502.5px;width:2.6px;height:12.2px;background:#a9dbd3"></div><div class="abs" style="left:0px;top:543px;width:1000px;height:19px;background:#d5d8df;"></div><div class="abs" style="left:0px;top:542px;width:1000px;height:1px;background:#dfe1e8;"></div><div class="abs" style="left:0px;top:543px;width:37.5px;height:19px;background:#dcdee4;border-right:1px solid #cdd0d7"></div><div class="abs" style="left:37.5px;top:543px;width:37.3px;height:19px;background:#dcdee4;border-right:1px solid #cdd0d7"></div><div class="abs" style="left:74.8px;top:543px;width:36.8px;height:19px;background:#dcdee4;border-right:1px solid #cdd0d7"></div><div class="abs" style="left:111.6px;top:543px;width:36.80000000000001px;height:19px;background:#dcdee4;border-right:1px solid #cdd0d7"></div><div class="abs" style="left:148.4px;top:543px;width:37.099999999999994px;height:19px;background:#dcdee4;border-right:1px solid #cdd0d7"></div><div class="abs" style="left:185.5px;top:543px;width:36.80000000000001px;height:19px;background:#dcdee4;border-right:1px solid #cdd0d7"></div><div class="abs" style="left:222.3px;top:543px;width:64.69999999999999px;height:19px;background:#e6e8ef"></div><svg class="abs" style="left:226.5px;top:548.5px" width="7" height="7" viewBox="0 0 7 7"><rect x="0.5" y="0.5" width="6" height="6" fill="none" stroke="#333" stroke-width="0.8"/><path d="M0.5,3.5 H6.5 M3.5,0.5 V6.5" stroke="#333" stroke-width="0.8"/></svg><div class="abs" style="left:287px;top:543px;width:37.39999999999998px;height:19px;background:#dcdee4;border-right:1px solid #cdd0d7"></div><div class="abs" style="left:324.4px;top:543px;width:37.200000000000045px;height:19px;background:#dcdee4;border-right:1px solid #cdd0d7"></div><div class="abs" style="left:361.6px;top:543px;width:41.0px;height:19px;background:#dcdee4;border-right:1px solid #cdd0d7"></div><svg class="abs" style="left:925px;top:543px" width="75" height="19" viewBox="0 0 75 19">
<rect x="9" y="9.8" width="5.6" height="1.3" fill="#9a9a9a"/><rect x="9" y="11.9" width="5.6" height="1.3" fill="#9a9a9a"/>
<g fill="#777"><rect x="9" y="14.2" width="1.2" height="1"/><rect x="11.2" y="14.2" width="1.2" height="1"/><rect x="13.4" y="14.2" width="1.2" height="1"/></g>
<rect x="20.2" y="9.9" width="5.8" height="5.2" fill="#5c5c5c" stroke="#333" stroke-width="0.7"/>
<path d="M35.6,10.7 L33.1,12.5 L35.6,14.3Z M44.6,10.7 L47.1,12.5 L44.6,14.3Z" fill="#333"/>
<path d="M53.2,11.3 V9.5 H55.1 M58.9,9.5 H60.8 V11.3 M60.8,13.8 V15.6 H58.9 M55.1,15.6 H53.2 V13.8" fill="none" stroke="#444" stroke-width="0.9"/>
<rect x="65.5" y="10" width="5.6" height="3.6" fill="none" stroke="#333" stroke-width="1.1"/><path d="M68.3,13.6 V15.4 M66.6,15.5 H70" stroke="#333" stroke-width="0.9"/>
</svg><svg class="abs" style="left:0;top:0" width="1000" height="562" viewBox="0 0 1000 562"><defs><clipPath id="mclip"><rect x="333" y="118" width="421" height="190"/></clipPath></defs><g font-family='"Liberation Sans", Arial, sans-serif'><text x="28.40" y="16.00" font-size="9.59" fill="#1c5e8c" text-anchor="start" textLength="124.71" lengthAdjust="spacingAndGlyphs" stroke="#1c5e8c" stroke-width="0.2">Tableau Desktop Public Edition</text><text x="919.80" y="16.00" font-size="9.59" fill="#1c5a8a" text-anchor="start" textLength="49.71" lengthAdjust="spacingAndGlyphs" stroke="#1c5a8a" stroke-width="0.2">Buy Tableau</text><text x="239.01" y="74.00" font-size="17.15" fill="#1a1a1a" text-anchor="middle" textLength="114.11" lengthAdjust="spacingAndGlyphs">Orders Report</text><text x="326.60" y="56.00" font-size="7.99" fill="#111" text-anchor="start" font-weight="bold" textLength="46.49" lengthAdjust="spacingAndGlyphs">Cust Country</text><text x="329.80" y="70.00" font-size="7.56" fill="#5e5e6a" text-anchor="start" textLength="13.38" lengthAdjust="spacingAndGlyphs" stroke="#5e5e6a" stroke-width="0.2">(All)</text><text x="558.80" y="55.00" font-size="7.56" fill="#111" text-anchor="start" font-weight="bold" textLength="51.10" lengthAdjust="spacingAndGlyphs">Prod Category</text><text x="562.00" y="69.60" font-size="7.56" fill="#5e5e6a" text-anchor="start" textLength="13.18" lengthAdjust="spacingAndGlyphs" stroke="#5e5e6a" stroke-width="0.2">(All)</text><text x="808.19" y="64.00" font-size="13.23" fill="#1c1c1c" text-anchor="middle" textLength="53.69" lengthAdjust="spacingAndGlyphs">Quantity</text><text x="834.69" y="98.00" font-size="8.58" fill="#3e3e3e" text-anchor="end" textLength="24.89" lengthAdjust="spacingAndGlyphs" stroke-width="0">55,271</text><text x="800.71" y="158.00" font-size="13.95" fill="#1c1c1c" text-anchor="middle" textLength="41.82" lengthAdjust="spacingAndGlyphs">Orders</text><text x="800.68" y="183.00" font-size="15.70" fill="#1c1c1c" text-anchor="middle" textLength="41.76" lengthAdjust="spacingAndGlyphs">4,976</text><text x="810.31" y="241.50" font-size="13.37" fill="#1c1c1c" text-anchor="middle" textLength="55.42" lengthAdjust="spacingAndGlyphs">final cost</text><text x="810.50" y="266.00" font-size="8.58" fill="#333" text-anchor="middle" textLength="37.09" lengthAdjust="spacingAndGlyphs" stroke-width="0">6,045,310</text><text x="34.30" y="101.30" font-size="7.41" fill="#111" text-anchor="start" font-weight="bold" textLength="32.01" lengthAdjust="spacingAndGlyphs">Quantity</text><text x="35.60" y="114.60" font-size="8.72" fill="#444" text-anchor="start" textLength="20.48" lengthAdjust="spacingAndGlyphs" stroke="#444" stroke-width="0.2">3,415</text><text x="299.20" y="114.60" font-size="8.72" fill="#444" text-anchor="start" textLength="24.99" lengthAdjust="spacingAndGlyphs" stroke="#444" stroke-width="0.2">14,054</text><text x="180.39" y="144.40" font-size="14.39" fill="#1c1c1c" text-anchor="middle" textLength="126.78" lengthAdjust="spacingAndGlyphs">Quantity by Category</text><text x="41.80" y="160.00" font-size="8.43" fill="#111" text-anchor="start" font-weight="bold" textLength="52.10" lengthAdjust="spacingAndGlyphs">Prod Category</text><text x="94.02" y="176.40" font-size="8.36" fill="#6b6b6b" text-anchor="end" textLength="38.27" lengthAdjust="spacingAndGlyphs" stroke="#6b6b6b" stroke-width="0.2">Blueprints</text><text x="236.77" y="176.40" font-size="9.16" fill="#222" text-anchor="start" textLength="13.39" lengthAdjust="spacingAndGlyphs" stroke="#222" stroke-width="0.2">912</text><text x="93.99" y="197.20" font-size="8.36" fill="#6b6b6b" text-anchor="end" textLength="37.59" lengthAdjust="spacingAndGlyphs" stroke="#6b6b6b" stroke-width="0.2">Drone Kits</text><text x="182.74" y="197.20" font-size="9.16" fill="#222" text-anchor="start" textLength="13.39" lengthAdjust="spacingAndGlyphs" stroke="#222" stroke-width="0.2">552</text><text x="93.99" y="218.00" font-size="8.36" fill="#6b6b6b" text-anchor="end" textLength="25.59" lengthAdjust="spacingAndGlyphs" stroke="#6b6b6b" stroke-width="0.2">Drones</text><text x="161.13" y="218.00" font-size="9.16" fill="#222" text-anchor="start" textLength="13.39" lengthAdjust="spacingAndGlyphs" stroke="#222" stroke-width="0.2">408</text><text x="94.00" y="238.80" font-size="8.36" fill="#6b6b6b" text-anchor="end" textLength="26.50" lengthAdjust="spacingAndGlyphs" stroke="#6b6b6b" stroke-width="0.2">eBooks</text><text x="294.40" y="238.80" font-size="9.16" fill="#222" text-anchor="start" textLength="20.98" lengthAdjust="spacingAndGlyphs" stroke="#222" stroke-width="0.2">1,296</text><text x="93.99" y="259.60" font-size="8.36" fill="#6b6b6b" text-anchor="end" textLength="37.59" lengthAdjust="spacingAndGlyphs" stroke="#6b6b6b" stroke-width="0.2">Robot Kits</text><text x="171.94" y="259.60" font-size="9.16" fill="#222" text-anchor="start" textLength="13.39" lengthAdjust="spacingAndGlyphs" stroke="#222" stroke-width="0.2">480</text><text x="93.99" y="280.40" font-size="8.36" fill="#6b6b6b" text-anchor="end" textLength="25.59" lengthAdjust="spacingAndGlyphs" stroke="#6b6b6b" stroke-width="0.2">Robots</text><text x="150.33" y="280.40" font-size="9.16" fill="#222" text-anchor="start" textLength="13.39" lengthAdjust="spacingAndGlyphs" stroke="#222" stroke-width="0.2">336</text><text x="93.99" y="301.20" font-size="8.36" fill="#6b6b6b" text-anchor="end" textLength="56.49" lengthAdjust="spacingAndGlyphs" stroke="#6b6b6b" stroke-width="0.2">Training Videos</text><text x="248.78" y="301.20" font-size="9.16" fill="#222" text-anchor="start" textLength="13.39" lengthAdjust="spacingAndGlyphs" stroke="#222" stroke-width="0.2">992</text><text x="543.78" y="108.70" font-size="13.81" fill="#1c1c1c" text-anchor="middle" textLength="152.57" lengthAdjust="spacingAndGlyphs">Total Quantity by Country</text><text x="618.70" y="122.60" font-size="7.27" fill="#8c8c8c" text-anchor="middle" textLength="21.49" lengthAdjust="spacingAndGlyphs" stroke="#8c8c8c" stroke-width="0.2">Turkey</text><text x="513.38" y="213.00" font-size="7.27" fill="#8c8c8c" text-anchor="middle" textLength="17.27" lengthAdjust="spacingAndGlyphs" stroke="#8c8c8c" stroke-width="0.2">Libya</text><text x="675.89" y="167.00" font-size="7.27" fill="#8395b0" text-anchor="middle" textLength="12.49" lengthAdjust="spacingAndGlyphs" stroke="#8395b0" stroke-width="0.2">Iraq</text><text x="744.49" y="167.40" font-size="7.27" fill="#8c8c8c" text-anchor="middle" textLength="13.09" lengthAdjust="spacingAndGlyphs" stroke="#8c8c8c" stroke-width="0.2">Iran</text><text x="704.71" y="292.50" font-size="7.27" fill="#8c8c8c" text-anchor="middle" textLength="22.21" lengthAdjust="spacingAndGlyphs" stroke="#8c8c8c" stroke-width="0.2">Yemen</text><text x="589.51" y="292.40" font-size="7.27" fill="#8c8c8c" text-anchor="middle" textLength="19.96" lengthAdjust="spacingAndGlyphs" stroke="#8c8c8c" stroke-width="0.2">Sudan</text><text x="335.10" y="306.00" font-size="7.12" fill="#333" text-anchor="start" textLength="105.01" lengthAdjust="spacingAndGlyphs" stroke="#333" stroke-width="0.2">&copy; 2026 Mapbox &copy; OpenStreetMap</text><g clip-path="url(#mclip)"><text x="355.00" y="176.20" font-size="8.14" fill="#1f2a3a" text-anchor="middle" textLength="31.00" lengthAdjust="spacingAndGlyphs" stroke="#1f2a3a" stroke-width="0.2">Morocco</text><text x="355.00" y="187.50" font-size="8.14" fill="#1f2a3a" text-anchor="middle" textLength="61.01" lengthAdjust="spacingAndGlyphs" stroke="#1f2a3a" stroke-width="0.2">Quantity 32,796</text><text x="354.99" y="197.40" font-size="8.14" fill="#1f2a3a" text-anchor="middle" textLength="34.69" lengthAdjust="spacingAndGlyphs" stroke="#1f2a3a" stroke-width="0.2">cost 58%</text></g><text x="418.09" y="196.20" font-size="6.83" fill="#1f2a3a" text-anchor="middle" textLength="19.89" lengthAdjust="spacingAndGlyphs" stroke="#1f2a3a" stroke-width="0.2">Algeria</text><text x="418.10" y="204.30" font-size="6.83" fill="#1f2a3a" text-anchor="middle" textLength="46.00" lengthAdjust="spacingAndGlyphs" stroke="#1f2a3a" stroke-width="0.2">Quantity 7,813</text><text x="418.09" y="213.00" font-size="6.83" fill="#1f2a3a" text-anchor="middle" textLength="27.99" lengthAdjust="spacingAndGlyphs" stroke="#1f2a3a" stroke-width="0.2">cost 13%</text><text x="583.41" y="213.60" font-size="7.12" fill="#1f2a3a" text-anchor="middle" textLength="16.81" lengthAdjust="spacingAndGlyphs" stroke="#1f2a3a" stroke-width="0.2">Egypt</text><text x="583.40" y="221.70" font-size="7.12" fill="#1f2a3a" text-anchor="middle" textLength="44.80" lengthAdjust="spacingAndGlyphs" stroke="#1f2a3a" stroke-width="0.2">Quantity 5,499</text><text x="583.39" y="230.40" font-size="7.12" fill="#1f2a3a" text-anchor="middle" textLength="27.99" lengthAdjust="spacingAndGlyphs" stroke="#1f2a3a" stroke-width="0.2">cost 12%</text><text x="644.70" y="146.30" font-size="7.12" fill="#1f2a3a" text-anchor="middle" textLength="14.29" lengthAdjust="spacingAndGlyphs" stroke="#1f2a3a" stroke-width="0.2">Syria</text><text x="644.70" y="154.40" font-size="7.12" fill="#1f2a3a" text-anchor="middle" textLength="44.80" lengthAdjust="spacingAndGlyphs" stroke="#1f2a3a" stroke-width="0.2">Quantity 5,600</text><text x="644.69" y="163.30" font-size="7.12" fill="#1f2a3a" text-anchor="middle" textLength="27.39" lengthAdjust="spacingAndGlyphs" stroke="#1f2a3a" stroke-width="0.2">cost 12%</text><text x="682.39" y="228.30" font-size="6.25" fill="#1f2a3a" text-anchor="middle" textLength="31.18" lengthAdjust="spacingAndGlyphs" stroke="#1f2a3a" stroke-width="0.2">Saudi Arabia</text><text x="682.40" y="235.40" font-size="6.25" fill="#1f2a3a" text-anchor="middle" textLength="36.40" lengthAdjust="spacingAndGlyphs" stroke="#1f2a3a" stroke-width="0.2">Quantity 1,875</text><text x="682.41" y="242.30" font-size="6.25" fill="#1f2a3a" text-anchor="middle" textLength="20.61" lengthAdjust="spacingAndGlyphs" stroke="#1f2a3a" stroke-width="0.2">cost 2%</text><text x="702.40" y="191.80" font-size="6.25" fill="#1f2a3a" text-anchor="middle" textLength="16.21" lengthAdjust="spacingAndGlyphs" stroke="#1f2a3a" stroke-width="0.2">Kuwait</text><text x="702.40" y="199.30" font-size="6.25" fill="#1f2a3a" text-anchor="middle" textLength="33.60" lengthAdjust="spacingAndGlyphs" stroke="#1f2a3a" stroke-width="0.2">Quantity 258</text><text x="702.41" y="206.20" font-size="6.25" fill="#1f2a3a" text-anchor="middle" textLength="19.91" lengthAdjust="spacingAndGlyphs" stroke="#1f2a3a" stroke-width="0.2">cost 0%</text><text x="193.51" y="329.40" font-size="13.66" fill="#1c1c1c" text-anchor="middle" textLength="162.62" lengthAdjust="spacingAndGlyphs">Final Cost Trend Over Time</text><text x="71.30" y="369.10" font-size="7.70" fill="#7a7a7a" text-anchor="end" textLength="18.40" lengthAdjust="spacingAndGlyphs" stroke="#7a7a7a" stroke-width="0.2">400K</text><text x="71.30" y="397.70" font-size="7.70" fill="#7a7a7a" text-anchor="end" textLength="18.40" lengthAdjust="spacingAndGlyphs" stroke="#7a7a7a" stroke-width="0.2">300K</text><text x="71.30" y="426.30" font-size="7.70" fill="#7a7a7a" text-anchor="end" textLength="18.40" lengthAdjust="spacingAndGlyphs" stroke="#7a7a7a" stroke-width="0.2">200K</text><text x="71.30" y="454.90" font-size="7.70" fill="#7a7a7a" text-anchor="end" textLength="18.40" lengthAdjust="spacingAndGlyphs" stroke="#7a7a7a" stroke-width="0.2">100K</text><text x="71.29" y="479.10" font-size="7.70" fill="#7a7a7a" text-anchor="end" textLength="8.76" lengthAdjust="spacingAndGlyphs" stroke="#7a7a7a" stroke-width="0.2">0K</text><text x="47.10" y="409.50" font-size="8.72" fill="#222" text-anchor="middle" font-weight="bold" textLength="33.70" lengthAdjust="spacingAndGlyphs" transform="rotate(-90 47.1 409.5)">final cost</text><text x="131.90" y="493.70" font-size="9.16" fill="#666" text-anchor="middle" textLength="17.70" lengthAdjust="spacingAndGlyphs" stroke="#666" stroke-width="0.2">2018</text><text x="262.50" y="493.70" font-size="9.16" fill="#666" text-anchor="middle" textLength="18.20" lengthAdjust="spacingAndGlyphs" stroke="#666" stroke-width="0.2">2019</text><text x="213.61" y="508.00" font-size="8.72" fill="#222" text-anchor="middle" font-weight="bold" textLength="75.91" lengthAdjust="spacingAndGlyphs">Month of Order Date</text><text x="443.50" y="328.60" font-size="13.08" fill="#1c1c1c" text-anchor="middle" textLength="122.31" lengthAdjust="spacingAndGlyphs">Sales Distribution by</text><text x="443.58" y="345.30" font-size="13.08" fill="#1c1c1c" text-anchor="middle" textLength="53.17" lengthAdjust="spacingAndGlyphs">Segment</text><text x="494.51" y="412.00" font-size="7.99" fill="#333" text-anchor="middle" textLength="20.71" lengthAdjust="spacingAndGlyphs" stroke="#333" stroke-width="0.2">Retail</text><text x="494.71" y="423.00" font-size="7.99" fill="#333" text-anchor="middle" textLength="16.01" lengthAdjust="spacingAndGlyphs" stroke="#333" stroke-width="0.2">43%</text><text x="385.10" y="452.20" font-size="7.70" fill="#333" text-anchor="middle" textLength="37.49" lengthAdjust="spacingAndGlyphs" stroke="#333" stroke-width="0.2">Wholesale</text><text x="385.01" y="462.70" font-size="7.99" fill="#333" text-anchor="middle" textLength="16.11" lengthAdjust="spacingAndGlyphs" stroke="#333" stroke-width="0.2">57%</text><text x="539.60" y="324.70" font-size="8.87" fill="#f4f8fb" text-anchor="start" textLength="54.66" lengthAdjust="spacingAndGlyphs" stroke="#ffffff" stroke-width="0.1">RWW-75 Robot</text><text x="539.60" y="335.35" font-size="8.87" fill="#f4f8fb" text-anchor="start" textLength="24.86" lengthAdjust="spacingAndGlyphs" stroke="#ffffff" stroke-width="0.1">Robots</text><text x="539.60" y="395.20" font-size="8.87" fill="#f4f8fb" text-anchor="start" textLength="59.74" lengthAdjust="spacingAndGlyphs" stroke="#ffffff" stroke-width="0.1">MICR-23K Robot</text><text x="539.60" y="405.85" font-size="8.87" fill="#f4f8fb" text-anchor="start" textLength="24.86" lengthAdjust="spacingAndGlyphs" stroke="#ffffff" stroke-width="0.1">Robots</text><text x="636.70" y="324.30" font-size="8.87" fill="#0f1b29" text-anchor="start" textLength="38.23" lengthAdjust="spacingAndGlyphs" stroke-width="0">RXW-9807</text><text x="636.70" y="334.95" font-size="8.87" fill="#0f1b29" text-anchor="start" textLength="20.94" lengthAdjust="spacingAndGlyphs" stroke-width="0">Robot</text><text x="636.70" y="345.60" font-size="8.87" fill="#0f1b29" text-anchor="start" textLength="24.86" lengthAdjust="spacingAndGlyphs" stroke-width="0">Robots</text><text x="691.50" y="324.30" font-size="8.87" fill="#0f1b29" text-anchor="start" textLength="37.50" lengthAdjust="spacingAndGlyphs" stroke-width="0">RQTE-554</text><text x="691.50" y="334.95" font-size="8.87" fill="#0f1b29" text-anchor="start" textLength="20.94" lengthAdjust="spacingAndGlyphs" stroke-width="0">Robot</text><text x="691.50" y="345.60" font-size="8.87" fill="#0f1b29" text-anchor="start" textLength="24.86" lengthAdjust="spacingAndGlyphs" stroke-width="0">Robots</text><text x="636.70" y="387.10" font-size="8.87" fill="#0f1b29" text-anchor="start" textLength="35.33" lengthAdjust="spacingAndGlyphs" stroke-width="0">RLK-9920</text><text x="636.70" y="397.75" font-size="8.87" fill="#0f1b29" text-anchor="start" textLength="20.94" lengthAdjust="spacingAndGlyphs" stroke-width="0">Robot</text><text x="636.70" y="408.40" font-size="8.87" fill="#0f1b29" text-anchor="start" textLength="24.86" lengthAdjust="spacingAndGlyphs" stroke-width="0">Robots</text><text x="696.50" y="387.10" font-size="8.87" fill="#0f1b29" text-anchor="start" textLength="32.27" lengthAdjust="spacingAndGlyphs" stroke-width="0">RCB-889</text><text x="696.50" y="397.75" font-size="8.87" fill="#0f1b29" text-anchor="start" textLength="20.94" lengthAdjust="spacingAndGlyphs" stroke-width="0">Robot</text><text x="696.50" y="408.40" font-size="8.87" fill="#0f1b29" text-anchor="start" textLength="24.86" lengthAdjust="spacingAndGlyphs" stroke-width="0">Robots</text><text x="539.80" y="443.90" font-size="8.87" fill="#f4f8fb" text-anchor="start" textLength="59.75" lengthAdjust="spacingAndGlyphs" stroke="#ffffff" stroke-width="0.1">DTD-7000 Drone</text><text x="539.80" y="454.55" font-size="8.87" fill="#f4f8fb" text-anchor="start" textLength="25.30" lengthAdjust="spacingAndGlyphs" stroke="#ffffff" stroke-width="0.1">Drones</text><text x="539.80" y="489.30" font-size="8.87" fill="#f4f8fb" text-anchor="start" textLength="50.16" lengthAdjust="spacingAndGlyphs" stroke="#ffffff" stroke-width="0.1">DX-145 Drone</text><text x="539.80" y="499.95" font-size="8.87" fill="#f4f8fb" text-anchor="start" textLength="25.30" lengthAdjust="spacingAndGlyphs" stroke="#ffffff" stroke-width="0.1">Drones</text><text x="635.30" y="443.50" font-size="8.87" fill="#0f1b29" text-anchor="start" textLength="64.54" lengthAdjust="spacingAndGlyphs" stroke-width="0">MICR-564K Drone</text><text x="635.30" y="454.15" font-size="8.87" fill="#0f1b29" text-anchor="start" textLength="25.30" lengthAdjust="spacingAndGlyphs" stroke-width="0">Drones</text><text x="635.30" y="488.90" font-size="8.87" fill="#0f1b29" text-anchor="start" textLength="47.53" lengthAdjust="spacingAndGlyphs" stroke-width="0">DTI-84 Drone</text><text x="635.30" y="499.55" font-size="8.87" fill="#0f1b29" text-anchor="start" textLength="25.30" lengthAdjust="spacingAndGlyphs" stroke-width="0">Drones</text><text x="708.50" y="489.30" font-size="8.87" fill="#0f1b29" text-anchor="start" textLength="27.04" lengthAdjust="spacingAndGlyphs" stroke-width="0">DC-304</text><text x="708.50" y="499.95" font-size="8.87" fill="#0f1b29" text-anchor="start" textLength="21.37" lengthAdjust="spacingAndGlyphs" stroke-width="0">Drone</text><text x="826.20" y="324.30" font-size="8.87" fill="#0f1b29" text-anchor="start" textLength="37.94" lengthAdjust="spacingAndGlyphs" stroke-width="0">BYOD-400</text><text x="826.20" y="334.95" font-size="8.87" fill="#0f1b29" text-anchor="start" textLength="21.37" lengthAdjust="spacingAndGlyphs" stroke-width="0">Drone</text><text x="826.20" y="364.30" font-size="8.87" fill="#0f1b29" text-anchor="start" textLength="37.94" lengthAdjust="spacingAndGlyphs" stroke-width="0">BYOD-550</text><text x="826.20" y="374.95" font-size="8.87" fill="#0f1b29" text-anchor="start" textLength="21.37" lengthAdjust="spacingAndGlyphs" stroke-width="0">Drone</text><text x="745.10" y="405.40" font-size="8.87" fill="#0f1b29" text-anchor="start" textLength="42.31" lengthAdjust="spacingAndGlyphs" stroke-width="0">BYOR-1000</text><text x="745.10" y="416.05" font-size="8.87" fill="#0f1b29" text-anchor="start" textLength="36.20" lengthAdjust="spacingAndGlyphs" stroke-width="0">Robot Kits</text><text x="745.10" y="437.50" font-size="8.87" fill="#0f1b29" text-anchor="start" textLength="42.31" lengthAdjust="spacingAndGlyphs" stroke-width="0">BYOR-4005</text><text x="745.10" y="448.15" font-size="8.87" fill="#0f1b29" text-anchor="start" textLength="36.20" lengthAdjust="spacingAndGlyphs" stroke-width="0">Robot Kits</text><text x="3.90" y="555.30" font-size="9.16" fill="#1a1a1a" text-anchor="start" textLength="27.15" lengthAdjust="spacingAndGlyphs" stroke="#1a1a1a" stroke-width="0.25">Sheet 2</text><text x="41.40" y="555.30" font-size="9.16" fill="#1a1a1a" text-anchor="start" textLength="27.15" lengthAdjust="spacingAndGlyphs" stroke="#1a1a1a" stroke-width="0.25">Sheet 3</text><text x="78.70" y="555.30" font-size="9.16" fill="#1a1a1a" text-anchor="start" textLength="27.15" lengthAdjust="spacingAndGlyphs" stroke="#1a1a1a" stroke-width="0.25">Sheet 4</text><text x="115.50" y="555.30" font-size="9.16" fill="#1a1a1a" text-anchor="start" textLength="27.15" lengthAdjust="spacingAndGlyphs" stroke="#1a1a1a" stroke-width="0.25">Sheet 5</text><text x="152.30" y="555.30" font-size="9.16" fill="#1a1a1a" text-anchor="start" textLength="27.15" lengthAdjust="spacingAndGlyphs" stroke="#1a1a1a" stroke-width="0.25">Sheet 6</text><text x="189.40" y="555.30" font-size="9.16" fill="#1a1a1a" text-anchor="start" textLength="27.15" lengthAdjust="spacingAndGlyphs" stroke="#1a1a1a" stroke-width="0.25">Sheet 7</text><text x="235.20" y="555.30" font-size="9.16" fill="#111" text-anchor="start" font-weight="bold" textLength="47.02" lengthAdjust="spacingAndGlyphs">Dashboard 1</text><text x="290.90" y="555.30" font-size="9.16" fill="#1a1a1a" text-anchor="start" textLength="27.15" lengthAdjust="spacingAndGlyphs" stroke="#1a1a1a" stroke-width="0.25">Sheet 8</text><text x="328.30" y="555.30" font-size="9.16" fill="#1a1a1a" text-anchor="start" textLength="27.15" lengthAdjust="spacingAndGlyphs" stroke="#1a1a1a" stroke-width="0.25">Sheet 9</text><text x="365.50" y="555.30" font-size="9.16" fill="#1a1a1a" text-anchor="start" textLength="31.53" lengthAdjust="spacingAndGlyphs" stroke="#1a1a1a" stroke-width="0.25">Sheet 10</text></g></svg>
</body></html>
